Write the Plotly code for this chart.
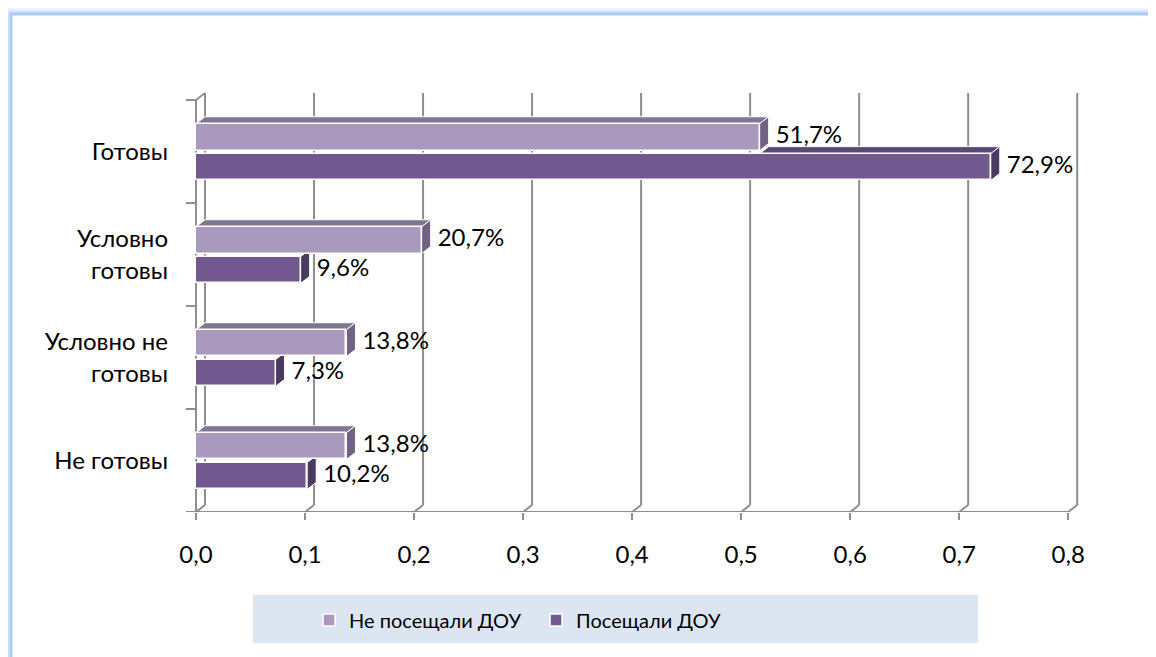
import plotly.graph_objects as go

# ---------------- data ----------------
categories = ["Не готовы", "Условно не<br>готовы", "Условно<br>готовы", "Готовы"]
series_names = ["Не посещали ДОУ", "Посещали ДОУ"]
not_attended = [0.138, 0.138, 0.207, 0.517]
attended = [0.102, 0.073, 0.096, 0.729]
label_not_attended = ["13,8%", "13,8%", "20,7%", "51,7%"]
label_attended = ["10,2%", "7,3%", "9,6%", "72,9%"]
x_ticks = [0.0, 0.1, 0.2, 0.3, 0.4, 0.5, 0.6, 0.7, 0.8]
x_tick_labels = ["0,0", "0,1", "0,2", "0,3", "0,4", "0,5", "0,6", "0,7", "0,8"]

# ---------------- styling / geometry ----------------
W, H = 1156, 657
OFF = 8.0                      # page body margin (figure sits at 8,8 on screen)
FONT = "Lato"
X0PX, XU = 196.0 - OFF, 1090.0  # figure pixel of x=0, pixels per unit
Y0PX, YU = 512.0 - OFF, 103.0   # figure pixel of y=-0.5, pixels per category
DX, DY = 9.0 / XU, 7.0 / YU     # 3D depth in data units
XL, XR = -13.0 / XU, 0.82
YB, YT = -0.5, 3.5 + DY + 0.02

ml = X0PX + XL * XU
mr = W - (X0PX + XR * XU)
mb = H - Y0PX
mt = Y0PX - (YT - YB) * YU
PW, PH = W - ml - mr, H - mt - mb


def pxx(px):  # screen px -> paper
    return (px - OFF - ml) / PW


def pxy(py):
    return (H - mb - (py - OFF)) / PH


LIGHT = ["#A99ABD", "#817692", "#6F6283"]   # front, top, side
DARK = ["#71588F", "#5B4677", "#4A3A62"]
GRID = "#8E8E8E"
BAR_W = 0.26
OFF_L, OFF_D = 0.14, -0.15

shapes = []

# outer blue frame (glow)
for inset, col, w in [(6, "#EAF3FD", 3), (8.5, "#CFE2F9", 2.5), (11, "#A9CBF4", 3)]:
    shapes.append(dict(type="rect", xref="paper", yref="paper",
                       x0=pxx(inset), x1=pxx(W + 60), y0=pxy(inset + 3), y1=pxy(H + 60),
                       line=dict(color=col, width=w), fillcolor="rgba(0,0,0,0)", layer="below"))

# legend background
shapes.append(dict(type="rect", xref="paper", yref="paper",
                   x0=pxx(253), x1=pxx(978), y0=pxy(595), y1=pxy(643),
                   line=dict(width=0), fillcolor="#DCE6F2", layer="below"))

gl = dict(color=GRID, width=2)
# back wall gridlines + floor diagonals
for v in x_ticks:
    shapes.append(dict(type="line", xref="x", yref="y", x0=v + DX, x1=v + DX,
                       y0=YB + DY, y1=3.5 + DY, line=gl, layer="below"))
    shapes.append(dict(type="line", xref="x", yref="y", x0=v, x1=v + DX,
                       y0=YB, y1=YB + DY, line=gl, layer="below"))
# front floor line and left front axis
shapes.append(dict(type="line", xref="x", yref="y", x0=XL + 3 / XU, x1=x_ticks[-1],
                   y0=YB, y1=YB, line=gl, layer="below"))
shapes.append(dict(type="line", xref="x", yref="y", x0=0, x1=0,
                   y0=YB, y1=3.5, line=gl, layer="below"))
shapes.append(dict(type="line", xref="x", yref="y", x0=0, x1=DX,
                   y0=3.5, y1=3.5 + DY, line=gl, layer="below"))
for b in [-0.5, 0.5, 1.5, 2.5, 3.5]:
    shapes.append(dict(type="line", xref="x", yref="y", x0=XL + 3 / XU, x1=0,
                       y0=b, y1=b, line=gl, layer="below"))


def path(pts):
    return "M " + " L ".join(f"{x},{y}" for x, y in pts) + " Z"


def faces(v, yc, cols, clip_from=None):
    y0, y1 = yc - BAR_W / 2, yc + BAR_W / 2
    out = []
    xs = 0.0 if clip_from is None else clip_from
    if xs < v:
        out.append(dict(type="path", xref="x", yref="y",
                        path=path([(xs, y1), (v, y1), (v + DX, y1 + DY), (xs + DX, y1 + DY)]),
                        fillcolor=cols[1], line=dict(color="white", width=1), layer="below"))
    out.append(dict(type="path", xref="x", yref="y",
                    path=path([(v, y0), (v + DX, y0 + DY), (v + DX, y1 + DY), (v, y1)]),
                    fillcolor=cols[2], line=dict(color="white", width=1), layer="below"))
    return out


idx = list(range(len(categories)))
for i in idx:
    shapes += faces(attended[i], i + OFF_D, DARK, clip_from=not_attended[i])
for i in idx:
    shapes += faces(not_attended[i], i + OFF_L, LIGHT)

fig = go.Figure()
fig.add_trace(go.Bar(orientation="h", name=series_names[0], x=not_attended,
                     y=[i + OFF_L for i in idx], width=BAR_W, base=0,
                     marker=dict(color=LIGHT[0], line=dict(color="white", width=1.5)),
                     hoverinfo="skip"))
fig.add_trace(go.Bar(orientation="h", name=series_names[1], x=attended,
                     y=[i + OFF_D for i in idx], width=BAR_W, base=0,
                     marker=dict(color=DARK[0], line=dict(color="white", width=1.5)),
                     hoverinfo="skip"))

PAD = 7.0 / XU
fig.add_trace(go.Scatter(x=[v + DX + PAD for v in not_attended], y=[i + OFF_L for i in idx],
                         mode="text", text=label_not_attended, textposition="middle right",
                         textfont=dict(family=FONT, size=24, color="black"),
                         showlegend=False, cliponaxis=False, hoverinfo="skip"))
fig.add_trace(go.Scatter(x=[v + DX + PAD for v in attended], y=[i + OFF_D for i in idx],
                         mode="text", text=label_attended, textposition="middle right",
                         textfont=dict(family=FONT, size=24, color="black"),
                         showlegend=False, cliponaxis=False, hoverinfo="skip"))

fig.update_layout(
    width=W, height=H, autosize=False,
    margin=dict(l=ml, r=mr, t=mt, b=mb, pad=0, autoexpand=False),
    paper_bgcolor="white", plot_bgcolor="rgba(0,0,0,0)",
    barmode="overlay", bargap=0,
    font=dict(family=FONT, size=24, color="black"),
    shapes=shapes,
    showlegend=True,
    legend=dict(orientation="h", x=pxx(309), y=pxy(620), xanchor="left", yanchor="middle",
                bgcolor="rgba(0,0,0,0)", font=dict(family=FONT, size=20, color="black"),
                itemwidth=30, entrywidth=182, entrywidthmode="pixels",
                traceorder="normal"),
    xaxis=dict(range=[XL, XR], tickvals=x_ticks, ticktext=x_tick_labels,
               showgrid=False, zeroline=False, showline=False,
               ticks="outside", ticklen=7, tickwidth=2, tickcolor=GRID,
               ticklabelstandoff=14, tickfont=dict(family=FONT, size=24, color="black")),
    yaxis=dict(range=[YB, YT], tickvals=idx, ticktext=categories,
               showgrid=False, zeroline=False, showline=False, ticks="",
               ticklabelstandoff=14, tickfont=dict(family=FONT, size=24, color="black")),
)

fig.write_html("out.html")
